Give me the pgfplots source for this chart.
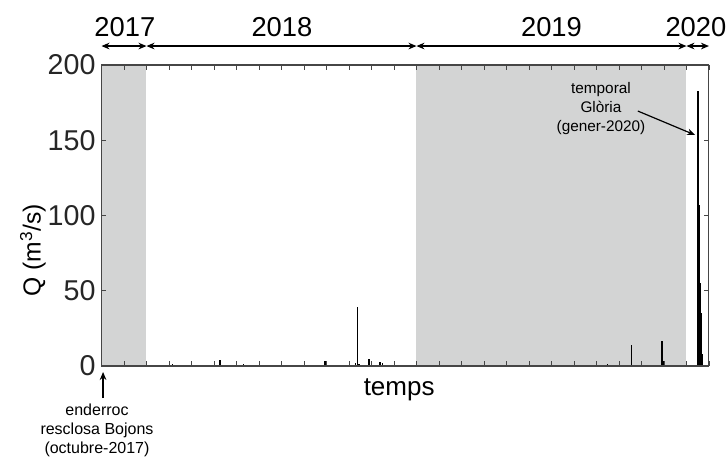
\documentclass[border=0pt]{standalone}
\usepackage{fontspec}
\setmainfont{Liberation Sans}
\usepackage{pgfplots}
\pgfplotsset{compat=1.18}
\usetikzlibrary{arrows.meta}
\definecolor{shade}{RGB}{211,212,212}
\definecolor{axgray}{RGB}{70,70,70}
\begin{document}
\begin{tikzpicture}
\useasboundingbox (0,0) rectangle (544.5pt,345pt);
\begin{axis}[
  at={(76.125pt,70.5pt)}, anchor=south west,
  scale only axis, width=455.6pt, height=225.75pt,
  xmin=0, xmax=27, ymin=0, ymax=200,
  xtick={0,1,...,27}, xticklabels={},
  ytick={0,50,100,150,200},
  tick align=inside, major tick length=3.75pt,
  axis line style={axgray, line width=0.8pt},
  tick style={axgray, line width=0.6pt},
  axis on top, clip=false,
  /pgf/number format/assume math mode=true,
  tick label style={font=\fontsize{21.5}{23}\selectfont, text=black!85},
  yticklabel style={xshift=-1pt},
  xlabel={temps},
  xlabel style={font=\fontsize{19.5}{21}\selectfont, at={(axis description cs:0.49,0)}, anchor=north, yshift=-6pt},
  ylabel={Q (m\textsuperscript{3}/s)},
  ylabel style={font=\fontsize{18.5}{20}\selectfont, at={(axis description cs:-0.113,0.385)}, anchor=center},
]
% shaded periods
\addplot[fill=shade, draw=none] coordinates {(0,0) (2,0) (2,200) (0,200)} -- cycle;
\addplot[fill=shade, draw=none] coordinates {(14,0) (26,0) (26,200) (14,200)} -- cycle;
% discharge spikes
\addplot[ycomb, black, line width=1.1pt, mark=none] coordinates {
 (3.16,1.5) (5.27,4) (6.30,1.5) (9.93,3) (11.30,2) (11.38,39) (11.45,1.5)
 (11.90,4.5) (12.00,2) (12.38,2.5) (12.50,2) (22.50,1.5) (23.56,14)
 (24.92,16.6) (24.96,3) (26.48,40) (26.52,183) (26.57,107) (26.61,55)
 (26.65,35) (26.69,8)
};
% year arrows
\draw[{Stealth[length=6pt,width=5pt]}-{Stealth[length=6pt,width=5pt]}, line width=0.9pt] (axis cs:0,212.6) -- (axis cs:2,212.6);
\draw[{Stealth[length=6pt,width=5pt]}-{Stealth[length=6pt,width=5pt]}, line width=0.9pt] (axis cs:2,212.6) -- (axis cs:14,212.6);
\draw[{Stealth[length=6pt,width=5pt]}-{Stealth[length=6pt,width=5pt]}, line width=0.9pt] (axis cs:14,212.6) -- (axis cs:26,212.6);
\draw[{Stealth[length=6pt,width=5pt]}-{Stealth[length=6pt,width=5pt]}, line width=0.9pt] (axis cs:26,212.6) -- (axis cs:27,212.6);
\node[font=\fontsize{20.5}{22}\selectfont] at (axis cs:1.04,225.5) {2017};
\node[font=\fontsize{20.5}{22}\selectfont] at (axis cs:8.02,225.5) {2018};
\node[font=\fontsize{20.5}{22}\selectfont] at (axis cs:20.0,225.5) {2019};
\node[font=\fontsize{20.5}{22}\selectfont] at (axis cs:26.42,225.5) {2020};
% annotations
\draw[-{Stealth[length=6pt,width=5pt]}, line width=0.9pt] (axis cs:0.07,-21.3) -- (axis cs:0.07,-4);
\node[font=\fontsize{12}{14.3}\selectfont, align=center, anchor=north] at (axis cs:-0.2,-22) {enderroc\\resclosa Bojons\\(octubre-2017)};
\node[font=\fontsize{11.5}{14.3}\selectfont, align=center] at (axis cs:22.2,170.8) {temporal\\Glòria\\(gener-2020)};
\draw[-{Stealth[length=6pt,width=5pt]}, line width=0.9pt] (axis cs:23.84,169.4) -- (axis cs:26.38,153.5);
\end{axis}
\end{tikzpicture}
\end{document}
